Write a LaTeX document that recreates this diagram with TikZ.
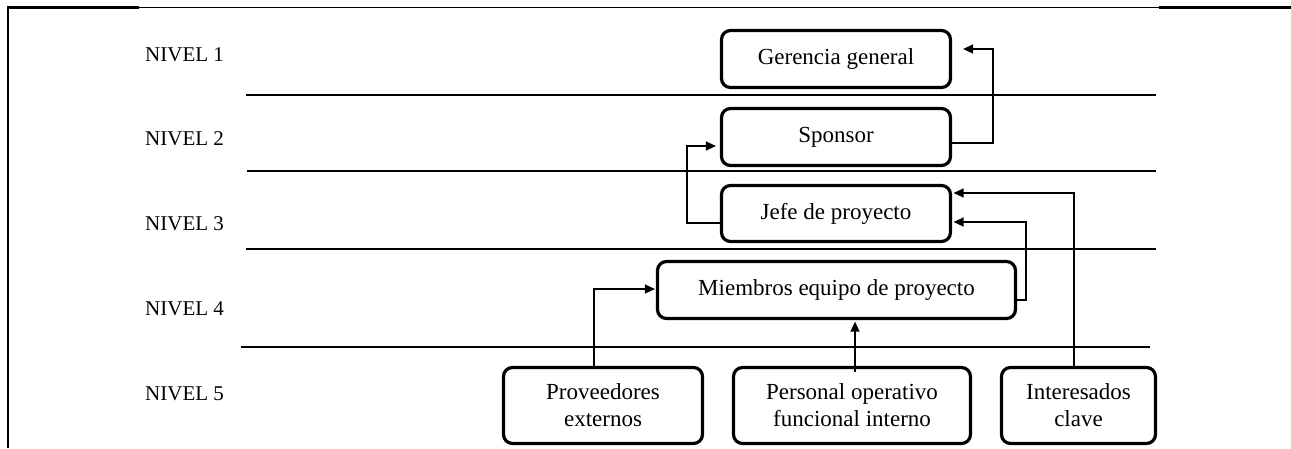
\documentclass[tikz,border=0pt]{standalone}
\usepackage{fontspec}
\setmainfont{Liberation Serif}
\usetikzlibrary{arrows.meta}
\begin{document}
\begin{tikzpicture}[x=1pt,y=-1pt,
  box/.style={draw, line width=3.2pt, rounded corners=9pt, inner sep=0pt, align=center,
    font=\fontsize{23}{27}\selectfont, minimum height=57pt},
  lvl/.style={anchor=base west, inner sep=0pt, font=\fontsize{21}{25}\selectfont},
  sep/.style={line width=1.5pt},
  conn/.style={line width=1.3pt, -{Triangle[length=10pt,width=9pt]}}]
\useasboundingbox (0,0) rectangle (1291,448);
% frame
\draw[line width=2.2pt] (8,448) -- (8,7.5) -- (139,7.5);
\draw[line width=1pt] (139,7.5) -- (1159,7.5);
\draw[line width=2.2pt] (1159,7.5) -- (1291,7.5);
% level separators
\draw[sep] (246,95) -- (1156,95);
\draw[sep] (247,171) -- (1156,171);
\draw[sep] (246,249) -- (1156,249);
\draw[sep] (241,347) -- (1150,347);
% level labels
\node[lvl] (n1) at (145,61) {NIVEL 1};
\node[lvl] (n2) at (145,145) {NIVEL 2};
\node[lvl] (n3) at (145,230) {NIVEL 3};
\node[lvl] (n4) at (145,315) {NIVEL 4};
\node[lvl] (n5) at (145,400) {NIVEL 5};
% boxes
\node[box, minimum width=229pt] (ger) at (836,59) {Gerencia general};
\node[box, minimum width=229pt] (spo) at (836,137) {Sponsor};
\node[box, minimum width=229pt, minimum height=56pt] (jefe) at (836,213.5) {Jefe de proyecto};
\node[box, minimum width=358pt] (miem) at (836.5,290) {Miembros equipo de proyecto};
\node[box, minimum width=199pt, minimum height=76pt] (prov) at (603,405.5) {Proveedores\\externos};
\node[box, minimum width=237pt, minimum height=76pt] (pers) at (852,405.5) {Personal operativo\\funcional interno};
\node[box, minimum width=154pt, minimum height=76pt] (inter) at (1078.5,405.5) {Interesados\\clave};
% connectors
\draw[conn] ([yshift=-6pt]spo.east) -- ++(41,0) |- ([xshift=11pt,yshift=10pt]ger.east);
\draw[conn] ([yshift=-9.5pt]jefe.west) -- ++(-33,0) |- ([xshift=-4pt,yshift=-9pt]spo.west);
\draw[conn] ([xshift=-4.5pt]inter.north) |- ([xshift=1.5pt,yshift=20.5pt]jefe.east);
\draw[conn] ([yshift=-10pt]miem.east) -- ++(9,0) |- ([xshift=1.5pt,yshift=-8.5pt]jefe.east);
\draw[conn] ([xshift=-9pt]prov.north) |- ([xshift=-1pt,yshift=1pt]miem.west);
\coordinate (pn) at ([xshift=3pt,yshift=-6pt]pers.north);
\coordinate (ms) at ([yshift=-1.5pt]miem.south);
\draw[conn, line width=1.6pt] (pn) -- (pn |- ms);
\end{tikzpicture}
\end{document}
